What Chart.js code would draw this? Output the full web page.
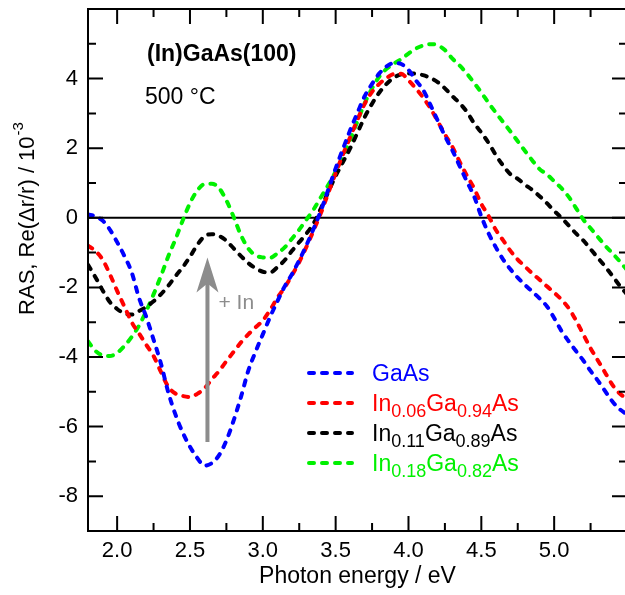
<!DOCTYPE html>
<html>
<head>
<meta charset="utf-8">
<script src="https://cdn.jsdelivr.net/npm/chart.js@4/dist/chart.umd.min.js"></script>
<style>
  html, body { margin: 0; padding: 0; background: #fff; overflow: hidden; }
  #wrap { width: 625px; height: 595px; overflow: hidden; position: relative; }
  canvas { display: block; }
</style>
</head>
<body>
<div id="wrap"><canvas id="c" width="632" height="595"></canvas></div>
<script>
// Photon energy grid (eV)
const energy = [
  1.80, 1.85, 1.90, 1.95, 2.00, 2.05, 2.10, 2.15, 2.20, 2.25,
  2.30, 2.35, 2.40, 2.45, 2.50, 2.55, 2.60, 2.65, 2.70, 2.75,
  2.80, 2.85, 2.90, 2.95, 3.00, 3.05, 3.10, 3.15, 3.20, 3.25,
  3.30, 3.35, 3.40, 3.45, 3.50, 3.55, 3.60, 3.65, 3.70, 3.75,
  3.80, 3.85, 3.90, 3.95, 4.00, 4.05, 4.10, 4.15, 4.20, 4.25,
  4.30, 4.35, 4.40, 4.45, 4.50, 4.55, 4.60, 4.65, 4.70, 4.75,
  4.80, 4.85, 4.90, 4.95, 5.00, 5.05, 5.10, 5.15, 5.20, 5.25,
  5.30, 5.35, 5.40, 5.45, 5.50
];

// RAS spectra, Re(dr/r) in units of 1e-3
const rasGaAs = [
   0.10,  0.04, -0.08, -0.34, -0.70, -1.10, -1.57, -2.30, -2.85, -3.50,
  -4.18, -5.00, -5.65, -6.17, -6.58, -6.90, -7.12, -7.05, -6.82, -6.40,
  -5.82, -5.15, -4.40, -3.85, -3.35, -2.85, -2.40, -1.97, -1.62, -1.22,
  -0.78, -0.30,  0.22,  0.82,  1.42,  1.98,  2.52,  3.02,  3.50,  3.85,
   4.15,  4.35,  4.45,  4.42,  4.25,  3.95,  3.68,  3.25,  2.80,  2.35,
   1.95,  1.50,  1.05,  0.62,  0.04, -0.45, -0.85, -1.20, -1.48, -1.72,
  -1.93, -2.12, -2.32, -2.54, -2.88, -3.25, -3.55, -3.83, -4.10, -4.40,
  -4.68, -4.98, -5.28, -5.50, -5.65
];
const rasIn006 = [
  -0.80, -0.95, -1.20, -1.62, -2.10, -2.55, -3.00, -3.32, -3.65, -3.97,
  -4.42, -4.85, -5.05, -5.12, -5.15, -5.06, -4.90, -4.64, -4.40, -4.12,
  -3.85, -3.58, -3.35, -3.15, -2.95, -2.65, -2.30, -2.00, -1.65, -1.27,
  -0.83, -0.35,  0.15,  0.72,  1.28,  1.82,  2.32,  2.82,  3.28,  3.62,
   3.85,  4.02,  4.13,  4.14,  3.95,  3.72,  3.46,  3.15,  2.78,  2.40,
   2.05,  1.62,  1.22,  0.85,  0.40,  0.05, -0.35, -0.65, -0.95, -1.20,
  -1.40, -1.60, -1.78, -1.97, -2.15, -2.35, -2.60, -2.95, -3.35, -3.75,
  -4.10, -4.45, -4.80, -5.05, -5.20
];
const rasIn011 = [
  -1.35, -1.70, -2.08, -2.42, -2.62, -2.75, -2.78, -2.68, -2.56, -2.40,
  -2.20, -1.96, -1.68, -1.42, -1.12, -0.78, -0.53, -0.47, -0.52, -0.66,
  -0.88, -1.10, -1.30, -1.45, -1.55, -1.57, -1.42, -1.22, -0.95, -0.70,
  -0.45, -0.15,  0.28,  0.75,  1.20,  1.60,  2.00,  2.45,  2.90,  3.28,
   3.60,  3.85,  4.03,  4.12,  4.15,  4.14,  4.10,  4.02,  3.90,  3.72,
   3.50,  3.30,  3.05,  2.72,  2.45,  2.15,  1.80,  1.50,  1.25,  1.12,
   0.95,  0.80,  0.62,  0.42,  0.20,  0.00, -0.22, -0.45, -0.65, -0.90,
  -1.15, -1.40, -1.67, -1.95, -2.20
];
const rasIn018 = [
  -3.55, -3.82, -3.95, -3.97, -3.88, -3.68, -3.42, -3.10, -2.68, -2.20,
  -1.68, -1.12, -0.62, -0.08,  0.42,  0.78,  0.97,  0.98,  0.85,  0.50,
   0.02, -0.50, -0.88, -1.08, -1.14, -1.15, -1.02, -0.85, -0.60, -0.34,
  -0.05,  0.25,  0.60,  0.95,  1.33,  1.75,  2.24,  2.78,  3.30,  3.72,
   4.06,  4.28,  4.43,  4.56,  4.72,  4.86,  4.95,  4.99,  4.96,  4.82,
   4.58,  4.38,  4.15,  3.88,  3.60,  3.30,  3.02,  2.75,  2.48,  2.20,
   1.92,  1.65,  1.40,  1.25,  1.05,  0.85,  0.60,  0.28, -0.05, -0.30,
  -0.55, -0.80, -1.02, -1.25, -1.50
];

// Series names (_{...} marks a subscript)
const seriesNames = ['GaAs', 'In_{0.06}Ga_{0.94}As', 'In_{0.11}Ga_{0.89}As', 'In_{0.18}Ga_{0.82}As'];
const seriesColors = ['#0000ff', '#ff0000', '#000000', '#00f000'];
const seriesValues = [rasGaAs, rasIn006, rasIn011, rasIn018];

// Axis ticks
const xTickLabels = [2.0, 2.5, 3.0, 3.5, 4.0, 4.5, 5.0];
const xMajorTicks = [2.0, 2.5, 3.0, 3.5, 4.0, 4.5, 5.0, 5.5];
const xMinorTicks = [2.25, 2.75, 3.25, 3.75, 4.25, 4.75, 5.25];
const yTickLabels = [-8, -6, -4, -2, 0, 2, 4];
const yMajorTicks = [-8, -6, -4, -2, 0, 2, 4, 6];
const yMinorTicks = [-9, -7, -5, -3, -1, 1, 3, 5];

// Indium trend arrow (energy, from, to)
const arrowEnergy = 2.62;
const arrowFrom = -6.44;
const arrowTo = -1.14;

const FONT = "'Liberation Sans', Arial, Helvetica, sans-serif";
Chart.defaults.font.family = FONT;

function parseRich(str) {
  const parts = [];
  const re = /_\{([^}]*)\}|([^_]+)/g;
  let m;
  while ((m = re.exec(str)) !== null) {
    if (m[1] !== undefined) parts.push({ t: m[1], sub: true });
    else parts.push({ t: m[2], sub: false });
  }
  return parts;
}

function drawRich(ctx, x, y, str, size, subSize, color) {
  ctx.fillStyle = color;
  ctx.textBaseline = 'alphabetic';
  ctx.textAlign = 'left';
  let cx = x;
  for (const p of parseRich(str)) {
    if (p.sub) {
      ctx.font = subSize + 'px ' + FONT;
      ctx.fillText(p.t, cx, y + 6);
    } else {
      ctx.font = size + 'px ' + FONT;
      ctx.fillText(p.t, cx, y);
    }
    cx += ctx.measureText(p.t).width;
  }
}

const decorations = {
  id: 'decorations',
  beforeDatasetsDraw(chart) {
    const { ctx, chartArea: a, scales: { y } } = chart;
    ctx.save();
    // zero line
    const y0 = y.getPixelForValue(0);
    ctx.strokeStyle = '#000';
    ctx.lineWidth = 2;
    ctx.beginPath();
    ctx.moveTo(a.left, y0);
    ctx.lineTo(a.right, y0);
    ctx.stroke();
    ctx.restore();
  },
  afterDatasetsDraw(chart) {
    const { ctx, chartArea: a, scales: { x, y } } = chart;
    ctx.save();

    // frame
    ctx.strokeStyle = '#000';
    ctx.lineWidth = 2;
    ctx.strokeRect(a.left, a.top, a.right - a.left, a.bottom - a.top);

    // inward ticks on all four sides
    const major = 15, minor = 8;
    ctx.beginPath();
    const xt = (v, len) => {
      const px = x.getPixelForValue(v);
      ctx.moveTo(px, a.bottom); ctx.lineTo(px, a.bottom - len);
      ctx.moveTo(px, a.top); ctx.lineTo(px, a.top + len);
    };
    const yt = (v, len) => {
      const py = y.getPixelForValue(v);
      ctx.moveTo(a.left, py); ctx.lineTo(a.left + len, py);
      ctx.moveTo(a.right, py); ctx.lineTo(a.right - len, py);
    };
    xMajorTicks.forEach(v => xt(v, major));
    xMinorTicks.forEach(v => xt(v, minor));
    yMajorTicks.forEach(v => yt(v, major));
    yMinorTicks.forEach(v => yt(v, minor));
    ctx.stroke();

    // arrow
    const ax = x.getPixelForValue(arrowEnergy);
    const yb = y.getPixelForValue(arrowFrom);
    const ytp = y.getPixelForValue(arrowTo);
    ctx.strokeStyle = '#8c8c8c';
    ctx.fillStyle = '#8c8c8c';
    ctx.lineWidth = 4;
    ctx.beginPath();
    ctx.moveTo(ax, yb);
    ctx.lineTo(ax, ytp + 24);
    ctx.stroke();
    ctx.beginPath();
    ctx.moveTo(ax, ytp);
    ctx.lineTo(ax + 11, ytp + 35);
    ctx.lineTo(ax, ytp + 26);
    ctx.lineTo(ax - 11, ytp + 35);
    ctx.closePath();
    ctx.fill();
    ctx.font = '21px ' + FONT;
    ctx.textAlign = 'left';
    ctx.textBaseline = 'alphabetic';
    ctx.fillText('+ In', ax + 11, ytp + 52);

    // sample annotation
    ctx.fillStyle = '#000';
    ctx.font = 'bold 23px ' + FONT;
    ctx.fillText('(In)GaAs(100)', 147, 61);
    ctx.font = '23px ' + FONT;
    ctx.fillText('500 °C', 145, 104);

    // legend
    const rows = [373, 403, 433, 463];
    chart.data.datasets.forEach((ds, i) => {
      const ry = rows[i];
      ctx.strokeStyle = ds.borderColor;
      ctx.lineWidth = ds.borderWidth;
      ctx.lineCap = 'round';
      ctx.setLineDash(ds.borderDash);
      ctx.beginPath();
      ctx.moveTo(309, ry);
      ctx.lineTo(352, ry);
      ctx.stroke();
      ctx.setLineDash([]);
      drawRich(ctx, 372, ry + 8, seriesNames[i], 23, 18, ds.borderColor);
    });

    // axis titles
    ctx.fillStyle = '#000';
    ctx.textAlign = 'center';
    ctx.textBaseline = 'middle';
    ctx.font = '23px ' + FONT;
    ctx.fillText('Photon energy / eV', (a.left + a.right) / 2, 577);

    ctx.translate(28, 219);
    ctx.rotate(-Math.PI / 2);
    const main = 'RAS, Re(\u0394r/r) / 10';
    const sup = '-3';
    ctx.font = '22px ' + FONT;
    const wMain = ctx.measureText(main).width;
    ctx.font = '15px ' + FONT;
    const wSup = ctx.measureText(sup).width;
    const start = -(wMain + wSup) / 2;
    ctx.textAlign = 'left';
    ctx.textBaseline = 'middle';
    ctx.font = '22px ' + FONT;
    ctx.fillText(main, start, 0);
    ctx.font = '15px ' + FONT;
    ctx.fillText(sup, start + wMain + 1, -9);
    ctx.restore();
  }
};

new Chart(document.getElementById('c'), {
  type: 'line',
  data: {
    datasets: seriesValues.map((vals, i) => ({
      label: seriesNames[i].replace(/_\{([^}]*)\}/g, '$1'),
      data: energy.map((e, j) => ({ x: e, y: vals[j] })),
      borderColor: seriesColors[i],
      borderWidth: 4,
      borderDash: [5, 8],
      borderCapStyle: 'round',
      pointRadius: 0,
      fill: false,
      cubicInterpolationMode: 'monotone'
    }))
  },
  options: {
    responsive: false,
    animation: false,
    devicePixelRatio: 1,
    layout: { padding: { left: 0, top: 9, right: 5, bottom: 0 } },
    plugins: { legend: { display: false }, tooltip: { enabled: false } },
    scales: {
      x: {
        type: 'linear', min: 1.8, max: 5.5,
        grid: { display: false, drawTicks: false },
        border: { display: false },
        afterBuildTicks: s => { s.ticks = xTickLabels.map(v => ({ value: v })); },
        afterFit: s => { s.height = 64; s.paddingLeft = 0; s.paddingRight = 0; },
        ticks: {
          callback: v => Number(v).toFixed(1),
          font: { size: 22 }, color: '#000', padding: 7,
          maxRotation: 0, autoSkip: false
        }
      },
      y: {
        type: 'linear', min: -9, max: 6,
        grid: { display: false, drawTicks: false },
        border: { display: false },
        afterBuildTicks: s => { s.ticks = yTickLabels.map(v => ({ value: v })); },
        afterFit: s => { s.width = 88; s.paddingTop = 0; s.paddingBottom = 0; },
        ticks: {
          callback: v => String(v),
          font: { size: 22 }, color: '#000', padding: 10,
          autoSkip: false
        }
      }
    }
  },
  plugins: [decorations]
});
</script>
</body>
</html>
